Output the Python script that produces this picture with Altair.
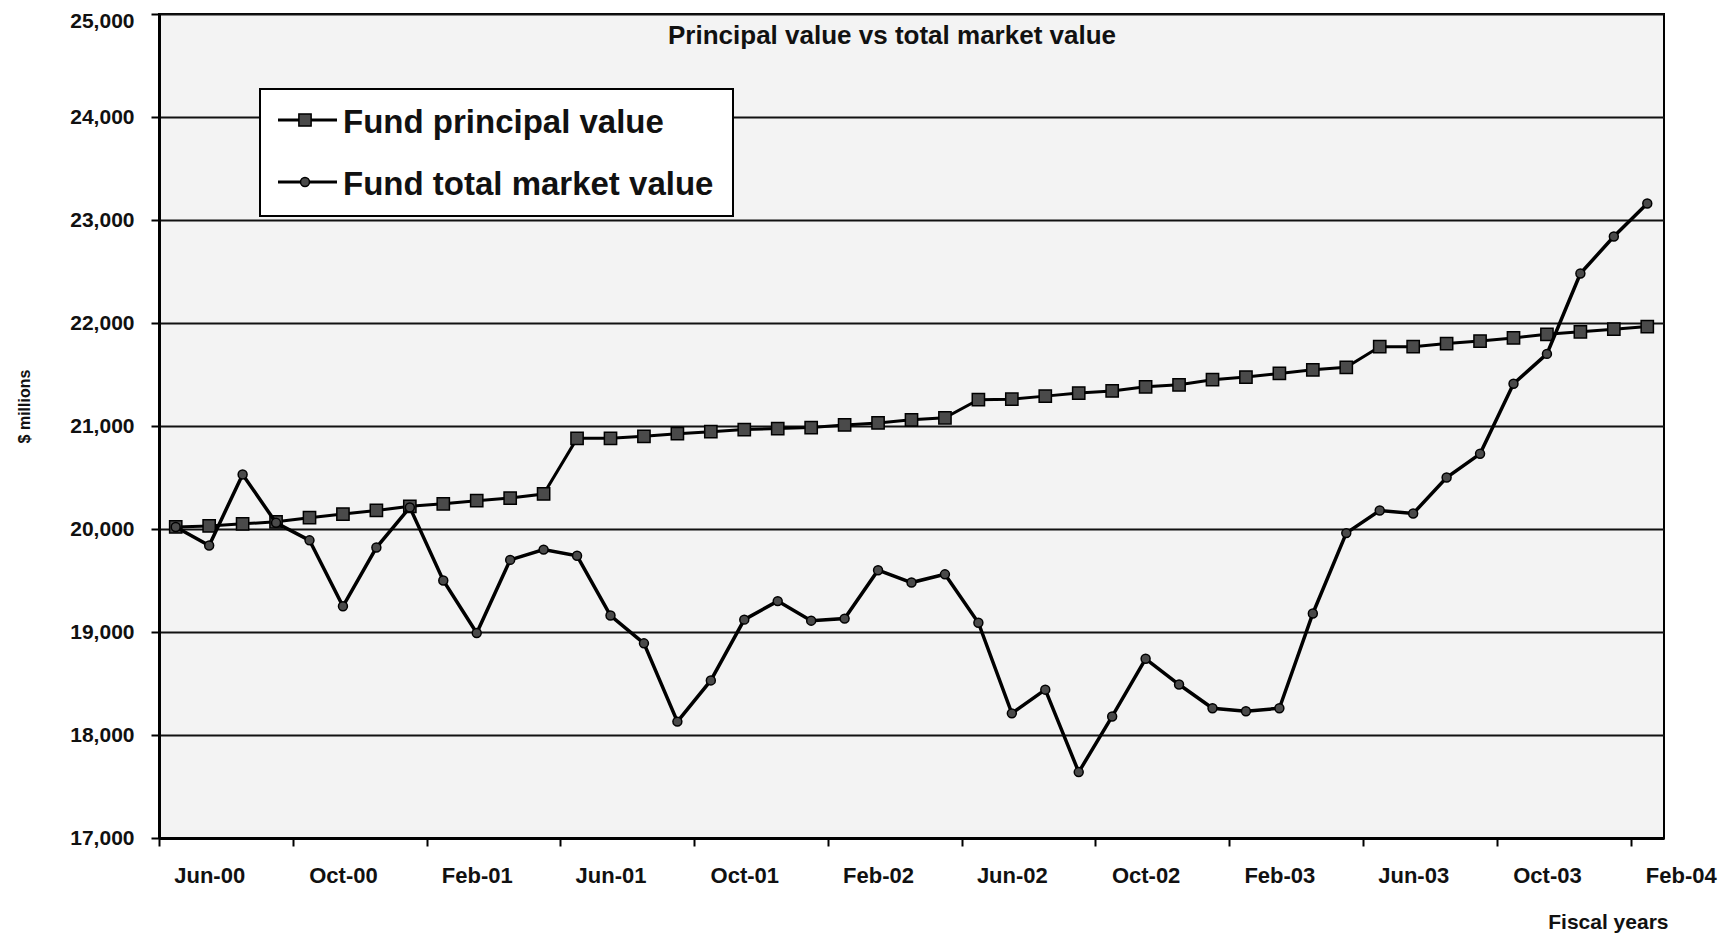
import json
import altair as alt
import pandas as pd

# ---------------- data ----------------
months = [
    "May-00", "Jun-00", "Jul-00", "Aug-00", "Sep-00", "Oct-00", "Nov-00", "Dec-00",
    "Jan-01", "Feb-01", "Mar-01", "Apr-01", "May-01", "Jun-01", "Jul-01", "Aug-01",
    "Sep-01", "Oct-01", "Nov-01", "Dec-01", "Jan-02", "Feb-02", "Mar-02", "Apr-02",
    "May-02", "Jun-02", "Jul-02", "Aug-02", "Sep-02", "Oct-02", "Nov-02", "Dec-02",
    "Jan-03", "Feb-03", "Mar-03", "Apr-03", "May-03", "Jun-03", "Jul-03", "Aug-03",
    "Sep-03", "Oct-03", "Nov-03", "Dec-03", "Jan-04",
]

principal = [
    20020, 20030, 20050, 20070, 20110, 20145, 20180, 20220, 20245, 20275, 20300, 20340,
    20880, 20880, 20900, 20925, 20945, 20965, 20975, 20985, 21010, 21030, 21060, 21080,
    21255, 21260, 21290, 21320, 21340, 21380, 21400, 21450, 21475, 21510, 21545, 21570,
    21770, 21770, 21800, 21825, 21855, 21890, 21915, 21940, 21965,
]

market = [
    20020, 19840, 20530, 20060, 19890, 19250, 19820, 20210, 19500, 18990, 19700, 19800,
    19740, 19160, 18890, 18130, 18530, 19120, 19300, 19110, 19130, 19600, 19480, 19560,
    19090, 18210, 18440, 17640, 18180, 18740, 18490, 18260, 18230, 18260, 19180, 19960,
    20180, 20150, 20500, 20730, 21410, 21700, 22480, 22840, 23160,
]

tick_labels = ["Jun-00", "Oct-00", "Feb-01", "Jun-01", "Oct-01", "Feb-02",
               "Jun-02", "Oct-02", "Feb-03", "Jun-03", "Oct-03", "Feb-04"]
y_ticks = [17000, 18000, 19000, 20000, 21000, 22000, 23000, 24000, 25000]
series_names = ["Fund principal value", "Fund total market value"]
chart_title = "Principal value vs total market value"
x_title = "Fiscal years"
y_title = "$ millions"

# ---------------- layout ----------------
FONT = "Liberation Sans"
W, H = 1505, 824
n = len(months)
month_px = W / n
half = month_px / 2

df = pd.DataFrame({
    "idx": list(range(n)),
    "month": months,
    "principal": principal,
    "market": market,
})
p_df = df[["idx", "month", "principal"]].rename(columns={"principal": "value"})
m_df = df[["idx", "month", "market"]].rename(columns={"market": "value"})

label_expr = json.dumps(tick_labels) + "[datum.value / 4]"

x_enc = alt.X(
    "idx:Q",
    scale=alt.Scale(domain=[-0.5, n - 0.5], nice=False, zero=False),
    axis=alt.Axis(
        values=list(range(0, n, 4)),
        labelExpr=label_expr,
        title=x_title,
        grid=False,
        tickSize=8, tickWidth=2, tickColor="black",
        tickOffset=-half, labelOffset=month_px + half,
        labelFont=FONT, labelFontSize=22, labelFontWeight="bold", labelColor="#111",
        labelBaseline="alphabetic", labelPadding=36, labelFlush=False, labelOverlap=False,
        domainColor="black", domainWidth=3,
        titleFont=FONT, titleFontSize=21, titleFontWeight="bold", titleColor="#111",
        titleX=W + 4, titleY=90, titleAlign="right", titleBaseline="alphabetic",
    ),
)

y_enc = alt.Y(
    "value:Q",
    scale=alt.Scale(domain=[17000, 25000], nice=False, zero=False),
    axis=alt.Axis(
        values=y_ticks, format=",.0f",
        title=y_title,
        grid=True, gridColor="#111", gridWidth=2,
        tickSize=8, tickWidth=2, tickColor="black",
        labelFont=FONT, labelFontSize=21, labelFontWeight="bold", labelColor="#111",
        labelPadding=17,
        labelOffset={"condition": {"test": "datum.value >= 25000", "value": 7}, "value": 0},
        domainColor="black", domainWidth=3,
        titleFont=FONT, titleFontSize=16, titleFontWeight="bold", titleColor="#111",
        titleX=-135, titleY=392, titleAngle=270, titleAlign="center", titleBaseline="middle",
    ),
)

p_line = alt.Chart(p_df).mark_line(color="black", strokeWidth=3).encode(x=x_enc, y=y_enc)
p_pts = alt.Chart(p_df).mark_point(
    shape="square", size=150, filled=True, fill="#4a4a4a", stroke="black",
    strokeWidth=1.5, opacity=1,
).encode(x=x_enc, y=y_enc)

m_line = alt.Chart(m_df).mark_line(color="black", strokeWidth=3.5).encode(x=x_enc, y=y_enc)
m_pts = alt.Chart(m_df).mark_point(
    shape="circle", size=80, filled=True, fill="#4a4a4a", stroke="black",
    strokeWidth=1.5, opacity=1,
).encode(x=x_enc, y=y_enc)

# ---------------- title (kept just under the top frame) ----------------
title_layer = alt.Chart().mark_text(
    align="center", baseline="alphabetic", font=FONT, fontSize=26,
    fontWeight="bold", color="#111",
).encode(x=alt.value(733), y=alt.value(30), text=alt.value(chart_title))

# ---------------- legend (drawn inside plot) ----------------
legend_box = alt.Chart().mark_rect(fill="white", stroke="black", strokeWidth=2).encode(
    x=alt.value(101), x2=alt.value(574), y=alt.value(75), y2=alt.value(202)
)
rows = [106, 168]
shapes = ["square", "circle"]
sizes = [150, 80]
legend_layers = [legend_box]
for name, ry, shp, sz in zip(series_names, rows, shapes, sizes):
    legend_layers.append(
        alt.Chart().mark_rule(color="black", strokeWidth=3).encode(
            x=alt.value(119), x2=alt.value(178), y=alt.value(ry)
        )
    )
    legend_layers.append(
        alt.Chart().mark_point(
            shape=shp, size=sz, filled=True, fill="#4a4a4a", stroke="black",
            strokeWidth=1.5, opacity=1,
        ).encode(x=alt.value(146), y=alt.value(ry))
    )
    legend_layers.append(
        alt.Chart().mark_text(
            align="left", baseline="alphabetic", font=FONT, fontSize=33,
            fontWeight="bold", color="#111",
        ).encode(x=alt.value(184), y=alt.value(ry + 13), text=alt.value(name))
    )

chart = alt.layer(p_line, p_pts, m_line, m_pts, title_layer, *legend_layers).properties(
    width=W,
    height=H,
    autosize=alt.AutoSizeParams(type="none"),
    padding={"left": 151, "top": 6, "right": 54, "bottom": 95},
    background="white",
).configure_view(
    stroke="black", strokeWidth=2, fill="#f3f3f3"
)

chart.save("out.html", embed_options={"renderer": "svg", "actions": False})
